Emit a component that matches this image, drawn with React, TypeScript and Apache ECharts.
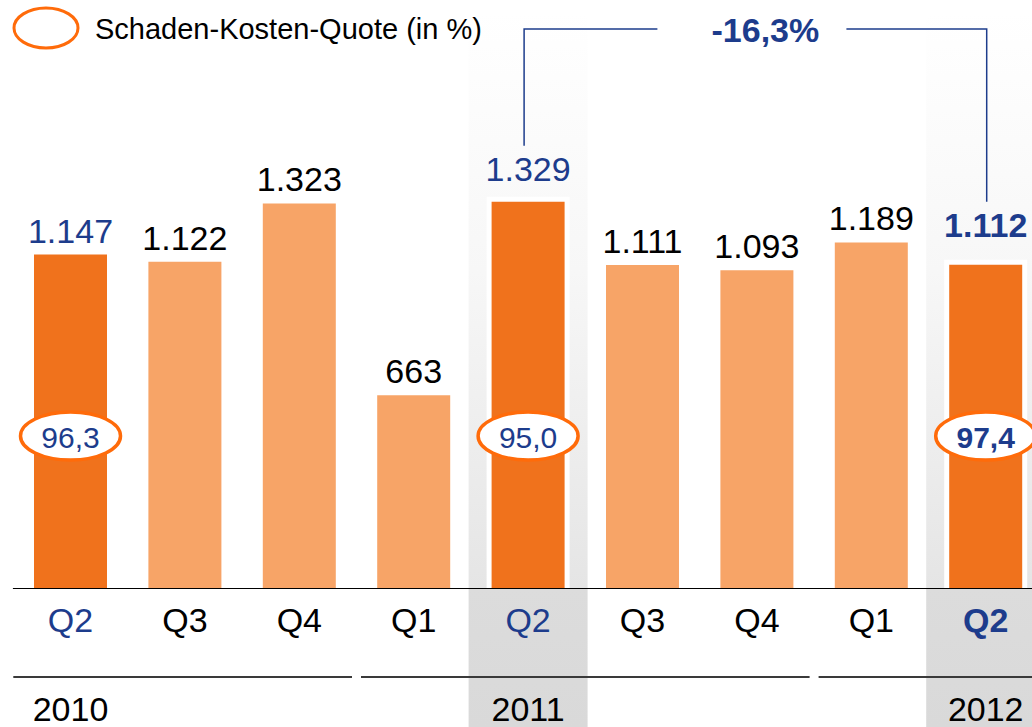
import React, { useEffect, useRef } from "react";
import * as echarts from "echarts";

const QUARTERS = ["Q2", "Q3", "Q4", "Q1", "Q2", "Q3", "Q4", "Q1", "Q2"];
const YEARS = ["2010", "", "", "", "2011", "", "", "", "2012"];
const VOLUME = [1147, 1122, 1323, 663, 1329, 1111, 1093, 1189, 1112];
const RATIO: (number | null)[] = [96.3, null, null, null, 95.0, null, null, null, 97.4];
const HIGHLIGHT = [0, 4, 8];
const CURRENT = 8;
const SHADED = [4, 8];
const YEAR_GROUPS = [
  [0, 2],
  [3, 6],
  [7, 8],
];
const COMPARE = [4, 8];
const LEGEND_LABEL = "Schaden-Kosten-Quote (in %)";

const FONT = "'Liberation Sans', Arial, sans-serif";
const BLUE = "#1D3C8C";
const DARK = "#F0721C";
const LIGHT = "#F7A467";
const RING = "#FF6B0A";

const W = 1044;
const H = 727;

const fmtThousands = (v: number) =>
  v >= 1000 ? Math.floor(v / 1000) + "." + String(v % 1000).padStart(3, "0") : String(v);
const fmtDec = (v: number) => v.toFixed(1).replace(".", ",");

export default function App() {
  const ref = useRef<HTMLDivElement>(null);
  useEffect(() => {
    if (!ref.current) return;
    const chart = echarts.init(ref.current, null, { renderer: "svg" });
    const change = (VOLUME[COMPARE[1]] / VOLUME[COMPARE[0]] - 1) * 100;
    const changeText = fmtDec(change) + "%";

    const barData = VOLUME.map((v, i) => {
      const hi = HIGHLIGHT.includes(i);
      const cur = i === CURRENT;
      let distance = 7;
      if (i === 4) distance = 16;
      if (i === 8) distance = 23;
      return {
        value: v,
        itemStyle: { color: hi ? DARK : LIGHT },
        label: {
          color: hi ? BLUE : "#000",
          fontWeight: cur ? "bold" : "normal",
          distance,
        },
      };
    });

    const option: any = {
      animation: false,
      grid: { left: 13.3, top: 152, width: 1029.6, height: 436 },
      xAxis: [
        {
          type: "category",
          data: QUARTERS,
          z: 5,
          axisLine: { lineStyle: { color: "#000", width: 1 } },
          axisTick: { show: false },
          axisLabel: {
            interval: 0,
            margin: 15,
            formatter: (v: string, i: number) =>
              i === CURRENT ? `{cur|${v}}` : HIGHLIGHT.includes(i) ? `{hi|${v}}` : `{n|${v}}`,
            rich: {
              n: { fontSize: 34, fontFamily: FONT, color: "#000" },
              hi: { fontSize: 34, fontFamily: FONT, color: BLUE },
              cur: { fontSize: 34, fontFamily: FONT, color: BLUE, fontWeight: "bold" },
            },
          },
        },
        {
          type: "category",
          data: YEARS,
          position: "bottom",
          offset: 89,
          z: 5,
          axisLine: { show: false },
          axisTick: { show: false },
          axisLabel: { interval: 0, margin: 15, fontSize: 34, fontFamily: FONT, color: "#000" },
        },
      ],
      yAxis: { type: "value", min: 0, max: 1500, show: false },
      graphic: [
        {
          type: "ellipse",
          z: 10,
          shape: { cx: 46, cy: 28, rx: 32, ry: 20 },
          style: { fill: "#fff", stroke: RING, lineWidth: 3 },
        },
        {
          type: "text",
          z: 10,
          x: 95,
          y: 29,
          style: { text: LEGEND_LABEL, fontSize: 29, fontFamily: FONT, fill: "#000", verticalAlign: "middle" },
        },
      ],
      series: [
        {
          type: "custom",
          z: 0,
          silent: true,
          clip: false,
          data: SHADED.map((i) => [i, 0]),
          renderItem: (params: any, api: any) => {
            const [x, base] = api.coord([api.value(0), 0]);
            const top = 12;
            const f = (base - top) / (H - top);
            return {
              type: "rect",
              shape: { x: x - 59.5, y: top, width: 119, height: H - top },
              style: {
                fill: new echarts.graphic.LinearGradient(0, 0, 0, 1, [
                  { offset: 0, color: "#ffffff" },
                  { offset: f * 0.45, color: "#f7f7f7" },
                  { offset: f, color: "#e5e5e5" },
                  { offset: f + 0.002, color: "#dcdcdc" },
                  { offset: 1, color: "#d9d9d9" },
                ]),
              },
            };
          },
        },
        {
          type: "custom",
          z: 1,
          silent: true,
          clip: false,
          data: HIGHLIGHT.map((i) => [i, VOLUME[i]]),
          renderItem: (params: any, api: any) => {
            const [x, y] = api.coord([api.value(0), api.value(1)]);
            const y0 = api.coord([api.value(0), 0])[1];
            return {
              type: "rect",
              shape: { x: x - 41.5, y: y - 5, width: 83, height: y0 - y + 5 },
              style: { fill: "#fff" },
            };
          },
        },
        {
          type: "bar",
          z: 2,
          barWidth: 73,
          data: barData,
          label: {
            show: true,
            position: "top",
            fontSize: 34,
            fontFamily: FONT,
            formatter: (p: any) => fmtThousands(p.value),
          },
        },
        {
          type: "custom",
          z: 3,
          silent: true,
          clip: false,
          data: RATIO.map((r, i) => [i, r]).filter((d) => d[1] !== null),
          renderItem: (params: any, api: any) => {
            const idx = api.value(0);
            const [x] = api.coord([idx, 0]);
            const cy = 436;
            return {
              type: "group",
              children: [
                {
                  type: "ellipse",
                  shape: { cx: x, cy, rx: 50, ry: 24 },
                  style: { fill: "#fff", stroke: RING, lineWidth: 3.5 },
                },
                {
                  type: "text",
                  style: {
                    text: fmtDec(api.value(1)),
                    x,
                    y: cy + 1,
                    align: "center",
                    verticalAlign: "middle",
                    fontSize: 30,
                    fontFamily: FONT,
                    fontWeight: idx === CURRENT ? "bold" : "normal",
                    fill: BLUE,
                  },
                },
              ],
            };
          },
        },
        {
          type: "custom",
          z: 10,
          silent: true,
          clip: false,
          encode: { x: 0, y: 2 },
          data: YEAR_GROUPS.map((g) => [g[0], g[1], 0]),
          renderItem: (params: any, api: any) => {
            const band = api.size([1, 0])[0];
            const s = api.value(0);
            const e = api.value(1);
            const base = api.coord([0, 0])[1];
            const x1 = api.coord([s, 0])[0] - band / 2 + (s === 0 ? 0 : 4.5);
            const x2 = api.coord([e, 0])[0] + band / 2 - (e === QUARTERS.length - 1 ? 0 : 4.5);
            return {
              type: "line",
              shape: { x1, y1: base + 89, x2, y2: base + 89 },
              style: { stroke: "#3a3a3a", lineWidth: 2 },
            };
          },
        },
        {
          type: "custom",
          z: 3,
          silent: true,
          clip: false,
          data: [[COMPARE[0], COMPARE[1]]],
          renderItem: (params: any, api: any) => {
            const a = api.value(0);
            const b = api.value(1);
            const [xa0, ya] = api.coord([a, VOLUME[a]]);
            const [xb0, yb] = api.coord([b, VOLUME[b]]);
            const xa = xa0 - 4;
            const xb = xb0 + 1;
            const top = 29;
            const xc = (xa + xb) / 2 + 10;
            const lineStyle = { stroke: BLUE, lineWidth: 1.5, fill: null };
            return {
              type: "group",
              children: [
                {
                  type: "polyline",
                  shape: { points: [[xa, ya - 56], [xa, top], [xc - 108, top]] },
                  style: lineStyle,
                },
                {
                  type: "polyline",
                  shape: { points: [[xc + 81, top], [xb, top], [xb, yb - 63]] },
                  style: lineStyle,
                },
                {
                  type: "text",
                  style: {
                    text: changeText,
                    x: xc,
                    y: top + 1,
                    align: "center",
                    verticalAlign: "middle",
                    fontSize: 34,
                    fontWeight: "bold",
                    fontFamily: FONT,
                    fill: BLUE,
                  },
                },
              ],
            };
          },
        },
      ],
    };
    chart.setOption(option);
    return () => chart.dispose();
  }, []);
  return (
    <div
      style={{
        position: "fixed",
        left: 0,
        top: 0,
        width: 1032,
        height: H,
        overflow: "hidden",
        background: "#fff",
      }}
    >
      <div ref={ref} style={{ width: W, height: H }} />
    </div>
  );
}
